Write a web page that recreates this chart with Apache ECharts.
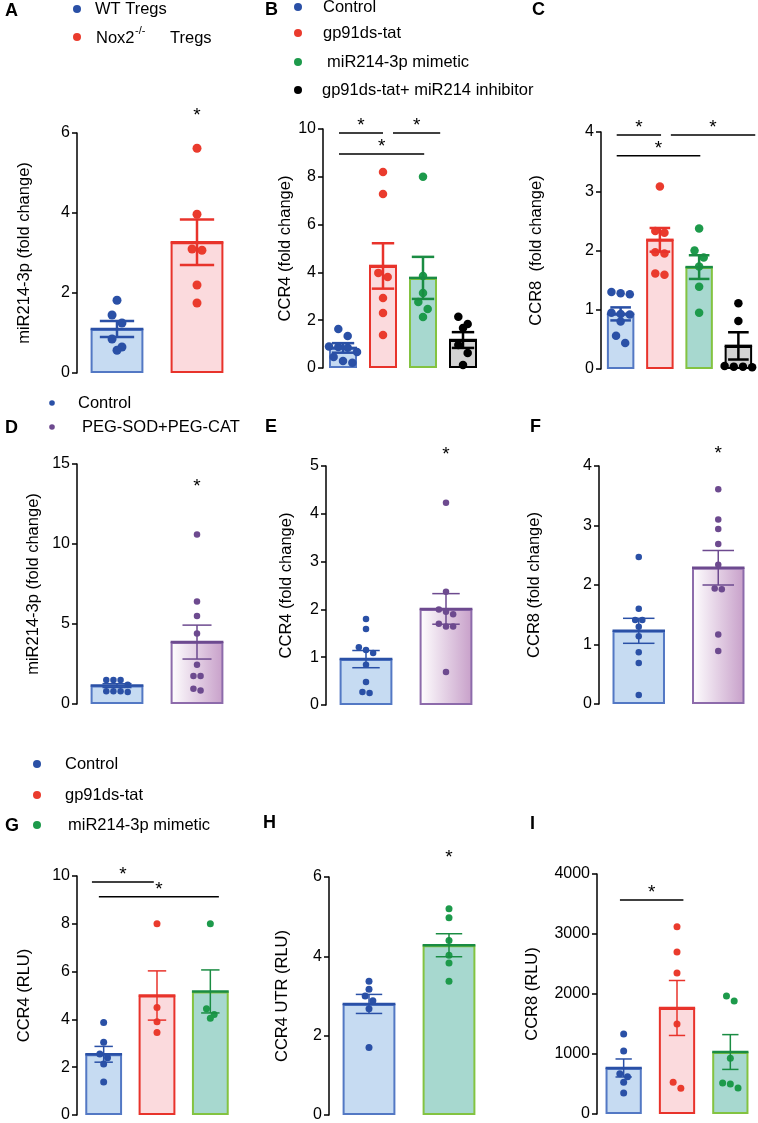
<!DOCTYPE html>
<html><head><meta charset="utf-8">
<script src="https://cdn.jsdelivr.net/npm/echarts@6/dist/echarts.min.js"></script>
<style>html,body{margin:0;padding:0;background:#fff}#c{width:758px;height:1123px}</style>
</head><body><div id="c"></div>
<script>
// ---------------- DATA ----------------
const catsA = ['WT Tregs', 'Nox2 -/- Tregs'];
const ptsA = [[1.82, 1.45, 1.25, 0.85, 0.65, 0.57], [5.62, 3.97, 3.1, 3.07, 2.2, 1.75]];
const meanA = [1.1, 3.27];
const semA = [0.2, 0.57];
const yTicksA = [0, 2, 4, 6];
const yNameA = 'miR214-3p (fold change)';
const starsA = [[1, 6.5]];

const catsB = ['Control', 'gp91ds-tat', 'miR214-3p mimetic', 'gp91ds-tat+ miR214 inhibitor'];
const ptsB = [[1.63, 1.34, 0.9, 0.88, 0.85, 0.67, 0.46, 0.29, 0.22],
              [8.2, 7.28, 3.98, 3.81, 2.93, 2.3, 1.38],
              [8.0, 3.85, 3.14, 2.76, 2.47, 2.13],
              [2.14, 1.84, 1.67, 0.96, 0.63, 0.13]];
const meanB = [0.84, 4.27, 3.77, 1.17];
const semB = [0.2, 0.95, 0.88, 0.33];
const yTicksB = [0, 2, 4, 6, 8, 10];
const yNameB = 'CCR4 (fold change)';
const sigB = [[-0.1, 1.0, 9.83], [1.25, 2.43, 9.83], [-0.1, 2.03, 8.95]];

const ptsC = [[1.3, 1.28, 1.26, 0.95, 0.93, 0.92, 0.8, 0.56, 0.44],
              [3.08, 2.33, 2.3, 1.97, 1.95, 1.61, 1.59],
              [2.37, 2.0, 1.88, 1.73, 1.39, 0.95],
              [1.11, 0.81, 0.05, 0.04, 0.04, 0.03]];
const meanC = [0.93, 2.18, 1.72, 0.39];
const semC = [0.11, 0.2, 0.2, 0.23];
const yTicksC = [0, 1, 2, 3, 4];
const yNameC = 'CCR8  (fold change)';
const sigC = [[-0.1, 1.03, 3.95], [1.28, 3.43, 3.95], [-0.1, 2.03, 3.6]];

const catsD = ['Control', 'PEG-SOD+PEG-CAT'];
const ptsD = [[1.5, 1.5, 1.5, 1.2, 0.8, 0.8, 0.8, 0.75],
              [10.6, 6.4, 5.5, 4.4, 2.45, 1.75, 1.75, 0.95, 0.85]];
const meanD = [1.15, 3.87];
const semD = [0.12, 1.06];
const yTicksD = [0, 5, 10, 15];
const yNameD = 'miR214-3p (fold change)';
const starsD = [[1, 13.75]];

const ptsE = [[1.8, 1.59, 1.21, 1.15, 1.09, 0.84, 0.48, 0.27, 0.25],
              [4.23, 2.37, 2.0, 1.95, 1.9, 1.7, 1.64, 1.64, 0.69]];
const meanE = [0.96, 2.01];
const semE = [0.18, 0.32];
const yTicksE = [0, 1, 2, 3, 4, 5];
const yNameE = 'CCR4 (fold change)';
const starsE = [[1, 5.3]];

const ptsF = [[2.47, 1.6, 1.41, 1.41, 1.3, 1.14, 0.87, 0.69, 0.15],
              [3.61, 3.1, 2.94, 2.69, 2.34, 1.94, 1.93, 1.17, 0.89]];
const meanF = [1.23, 2.29];
const semF = [0.21, 0.29];
const yTicksF = [0, 1, 2, 3, 4];
const yNameF = 'CCR8 (fold change)';
const starsF = [[1, 4.25]];

const catsG = ['Control', 'gp91ds-tat', 'miR214-3p mimetic'];
const ptsG = [[3.87, 3.04, 2.55, 2.4, 2.13, 1.38], [8.0, 4.5, 3.9, 3.45], [8.0, 4.45, 4.2, 4.05]];
const meanG = [2.54, 5.0, 5.17];
const semG = [0.33, 1.03, 0.9];
const yTicksG = [0, 2, 4, 6, 8, 10];
const yNameG = 'CCR4 (RLU)';
const sigG = [[-0.22, 0.94, 9.75], [-0.09, 2.16, 9.13]];

const ptsH = [[3.37, 3.17, 3.0, 2.88, 2.68, 1.7], [5.2, 4.97, 4.4, 4.03, 3.83, 3.37]];
const meanH = [2.8, 4.28];
const semH = [0.24, 0.29];
const yTicksH = [0, 2, 4, 6];
const yNameH = 'CCR4 UTR (RLU)';
const starsH = [[1, 6.57]];

const ptsI = [[1335, 1050, 670, 620, 530, 350], [3120, 2700, 2350, 1500, 530, 430], [1967, 1883, 930, 517, 500, 433]];
const meanI = [767, 1767, 1033];
const semI = [150, 458, 290];
const yTicksI = [0, 1000, 2000, 3000, 4000];
const yNameI = 'CCR8 (RLU)';
const sigI = [[-0.07, 1.12, 3567]];

// ---------------- STYLE ----------------
const FONT = '"Liberation Sans", Arial, Helvetica, sans-serif';
const pal = {
  blue:   {dot: '#2a50a6', fill: '#c6dbf2', border: '#5378c4', err: '#2a50a6'},
  red:    {dot: '#ea3b2d', fill: '#fbdadd', border: '#e8332b', err: '#e8332b'},
  green:  {dot: '#1d9a4b', fill: '#a7d8cf', border: '#83c341', err: '#1a8c43'},
  black:  {dot: '#000000', fill: '#d3d3d3', border: '#000000', err: '#000000'},
  purple: {dot: '#6d4a8f', fill: {type: 'linear', x: 0, y: 0, x2: 1, y2: 0,
             colorStops: [{offset: 0, color: '#ffffff'}, {offset: 1, color: '#c79fc9'}]},
           border: '#8d6bab', err: '#6d4a8f'}
};

const panels = [
  {cats: catsA, pts: ptsA, mean: meanA, sem: semA, ticks: yTicksA, yName: yNameA, sig: [], stars: starsA,
   col: ['blue', 'red'], box: [77, 133, 160, 240], bar: 0.66, dot: 9, cap: 0.65, gap: 44, ew: 2.5},
  {cats: catsB, pts: ptsB, mean: meanB, sem: semB, ticks: yTicksB, yName: yNameB, sig: sigB, stars: [],
   col: ['blue', 'red', 'green', 'black'], box: [323, 129, 160, 239], bar: 0.7, dot: 8.5, cap: 0.8, gap: 28, ew: 2.5},
  {cats: catsB, pts: ptsC, mean: meanC, sem: semC, ticks: yTicksC, yName: yNameC, sig: sigC, stars: [],
   col: ['blue', 'red', 'green', 'black'], box: [601, 132, 160, 237], bar: 0.7, dot: 8.5, cap: 0.75, gap: 56, ew: 2.5},
  {cats: catsD, pts: ptsD, mean: meanD, sem: semD, ticks: yTicksD, yName: yNameD, sig: [], stars: starsD,
   col: ['blue', 'purple'], box: [77, 464, 160, 240], bar: 0.66, dot: 6.5, cap: 0.55, gap: 35, ew: 1.5},
  {cats: catsD, pts: ptsE, mean: meanE, sem: semE, ticks: yTicksE, yName: yNameE, sig: [], stars: starsE,
   col: ['blue', 'purple'], box: [326, 466, 160, 239], bar: 0.66, dot: 6.5, cap: 0.52, gap: 31, ew: 1.5},
  {cats: catsD, pts: ptsF, mean: meanF, sem: semF, ticks: yTicksF, yName: yNameF, sig: [], stars: starsF,
   col: ['blue', 'purple'], box: [599, 466, 160, 238], bar: 0.66, dot: 6.5, cap: 0.6, gap: 56, ew: 1.5},
  {cats: catsG, pts: ptsG, mean: meanG, sem: semG, ticks: yTicksG, yName: yNameG, sig: sigG, stars: [],
   col: ['blue', 'red', 'green'], box: [77, 876, 160, 240], bar: 0.69, dot: 7, cap: 0.5, gap: 44, ew: 1.5},
  {cats: [catsG[0], catsG[2]], pts: ptsH, mean: meanH, sem: semH, ticks: yTicksH, yName: yNameH, sig: [], stars: starsH,
   col: ['blue', 'green'], box: [329, 877, 160, 238], bar: 0.66, dot: 7, cap: 0.5, gap: 38, ew: 1.5},
  {cats: catsG, pts: ptsI, mean: meanI, sem: semI, ticks: yTicksI, yName: yNameI, sig: sigI, stars: [],
   col: ['blue', 'red', 'green'], box: [597, 874, 160, 240], bar: 0.68, dot: 7, cap: 0.45, gap: 56, ew: 1.5}
];

// row-based dot arrangement (GraphPad-like) computed from the values
function swarm(vals, pxPerUnit, d, catPx) {
  const order = vals.map((v, i) => i).sort((a, b) => vals[b] - vals[a]);
  const rows = []; let cur = null;
  order.forEach(i => {
    const y = vals[i] * pxPerUnit;
    if (cur && cur.y0 - y < d * 0.95) cur.items.push(i);
    else { cur = {y0: y, items: [i]}; rows.push(cur); }
  });
  const off = vals.map(() => 0);
  const s = d * 1.1;
  rows.forEach(r => {
    const n = r.items.length;
    r.items.forEach((i, k) => { off[i] = (k - (n - 1) / 2) * s / catPx; });
  });
  return off;
}

const grid = [], xAxis = [], yAxis = [], series = [];
panels.forEach((p, pi) => {
  const n = p.cats.length;
  const [left, top, width, height] = p.box;
  const ymin = p.ticks[0], ymax = p.ticks[p.ticks.length - 1];
  grid.push({left, top, width, height, containLabel: false});
  xAxis.push({type: 'category', gridIndex: pi, data: p.cats, show: false});
  xAxis.push({type: 'value', gridIndex: pi, min: -0.5, max: n - 0.5, show: false});
  yAxis.push({
    type: 'value', gridIndex: pi, min: ymin, max: ymax, interval: p.ticks[1] - p.ticks[0],
    position: 'left',
    name: p.yName, nameLocation: 'middle', nameGap: p.gap,
    nameTextStyle: {fontFamily: FONT, fontSize: 16.5, color: '#000'},
    axisLine: {show: true, onZero: false, lineStyle: {color: '#000', width: 1.5}},
    axisTick: {show: true, inside: false, length: 5, lineStyle: {color: '#000', width: 1.5}},
    axisLabel: {fontFamily: FONT, fontSize: 16, color: '#000', margin: 7, formatter: v => String(v)},
    splitLine: {show: false}
  });
  const xb = 2 * pi, xv = 2 * pi + 1;
  // bars
  series.push({
    type: 'bar', xAxisIndex: xb, yAxisIndex: pi, barWidth: (p.bar * 100) + '%', z: 1,
    silent: true, animation: false,
    data: p.mean.map((m, i) => ({value: m, itemStyle: {color: pal[p.col[i]].fill, borderColor: pal[p.col[i]].border, borderWidth: 2}}))
  });
  // points
  const pxU = height / (ymax - ymin), catPx = width / n;
  p.pts.forEach((vals, gi) => {
    const off = swarm(vals, pxU, p.dot, catPx);
    series.push({
      type: 'scatter', name: p.cats[gi], xAxisIndex: xv, yAxisIndex: pi, symbol: 'circle', symbolSize: p.dot,
      itemStyle: {color: pal[p.col[gi]].dot, opacity: 1}, z: 3, animation: false, silent: true,
      data: vals.map((v, k) => [gi + off[k], v])
    });
  });
  // error bars + mean line
  series.push({
    type: 'custom', xAxisIndex: xv, yAxisIndex: pi, z: 4, animation: false, silent: true,
    data: p.mean.map((m, i) => [i, m, p.sem[i]]),
    renderItem: (params, api) => {
      const i = api.value(0), m = api.value(1), s = api.value(2);
      const c = pal[p.col[params.dataIndex]].err;
      const bw = api.size([1, 0])[0] * p.bar;
      const pm = api.coord([i, m]), pt = api.coord([i, m + s]), pb = api.coord([i, m - s]);
      const cw = bw * p.cap / 2;
      const st = {stroke: c, lineWidth: p.ew};
      return {type: 'group', children: [
        {type: 'line', shape: {x1: pm[0] - bw / 2, y1: pm[1], x2: pm[0] + bw / 2, y2: pm[1]}, style: {stroke: c, lineWidth: 2.5}},
        {type: 'line', shape: {x1: pt[0], y1: pt[1], x2: pb[0], y2: pb[1]}, style: st},
        {type: 'line', shape: {x1: pt[0] - cw, y1: pt[1], x2: pt[0] + cw, y2: pt[1]}, style: st},
        {type: 'line', shape: {x1: pb[0] - cw, y1: pb[1], x2: pb[0] + cw, y2: pb[1]}, style: st}
      ]};
    }
  });
  // significance brackets
  if (p.sig.length) series.push({
    type: 'custom', xAxisIndex: xv, yAxisIndex: pi, z: 5, clip: false, animation: false, silent: true,
    data: p.sig,
    renderItem: (params, api) => {
      const a = api.coord([api.value(0), api.value(2)]), b = api.coord([api.value(1), api.value(2)]);
      return {type: 'group', children: [
        {type: 'line', shape: {x1: a[0], y1: a[1], x2: b[0], y2: b[1]}, style: {stroke: '#000', lineWidth: 1.5}},
        {type: 'text', style: {text: '*', x: (a[0] + b[0]) / 2, y: a[1] - 7, fill: '#000', fontFamily: FONT, fontSize: 19, align: 'center', verticalAlign: 'middle'}}
      ]};
    }
  });
  if (p.stars.length) series.push({
    type: 'custom', xAxisIndex: xv, yAxisIndex: pi, z: 5, clip: false, animation: false, silent: true,
    data: p.stars,
    renderItem: (params, api) => {
      const a = api.coord([api.value(0), api.value(1)]);
      return {type: 'text', style: {text: '*', x: a[0], y: a[1] + 3, fill: '#000', fontFamily: FONT, fontSize: 19, align: 'center', verticalAlign: 'middle'}};
    }
  });
});

// ---------------- LEGENDS & PANEL LETTERS ----------------
const graphic = [];
function dot(x, y, r, c) { graphic.push({type: 'circle', shape: {cx: x, cy: y, r}, style: {fill: c}, silent: true}); }
function txt(x, y, t, size, bold) {
  graphic.push({type: 'text', x, y, silent: true, style: {text: t, fill: '#000', fontFamily: FONT, fontSize: size || 16.5,
    fontWeight: bold ? 'bold' : 'normal', verticalAlign: 'middle', align: 'left'}});
}
// A legend
dot(77, 9, 4, pal.blue.dot); txt(95, 9, catsA[0]);
dot(77, 37, 4, pal.red.dot);
const nox = catsA[1].split(' ');
txt(96, 38, nox[0]); txt(135, 31, nox[1], 11); txt(170, 38, nox[2]);
// B legend
const bCols = ['blue', 'red', 'green', 'black'], bY = [7, 33, 62, 90], bX = [323, 323, 327, 322];
catsB.forEach((t, i) => { dot(298, bY[i], 4, pal[bCols[i]].dot); txt(bX[i], bY[i], t); });
// D legend
dot(52, 403, 2.8, pal.blue.dot); txt(78, 403, catsD[0]);
dot(52, 427, 2.8, pal.purple.dot); txt(82, 427, catsD[1]);
// G legend
const gCols = ['blue', 'red', 'green'], gY = [764, 795, 825], gX = [65, 65, 68];
catsG.forEach((t, i) => { dot(37, gY[i], 4, pal[gCols[i]].dot); txt(gX[i], gY[i], t); });
// letters
[['A', 5, 11], ['B', 265, 10], ['C', 532, 10], ['D', 5, 428], ['E', 265, 427], ['F', 530, 427],
 ['G', 5, 826], ['H', 263, 823], ['I', 530, 824]].forEach(l => txt(l[1], l[2], l[0], 18, true));

const chart = echarts.init(document.getElementById('c'), null, {renderer: 'canvas'});
chart.setOption({
  backgroundColor: '#ffffff',
  animation: false,
  grid, xAxis, yAxis, series, graphic
});
</script></body></html>
